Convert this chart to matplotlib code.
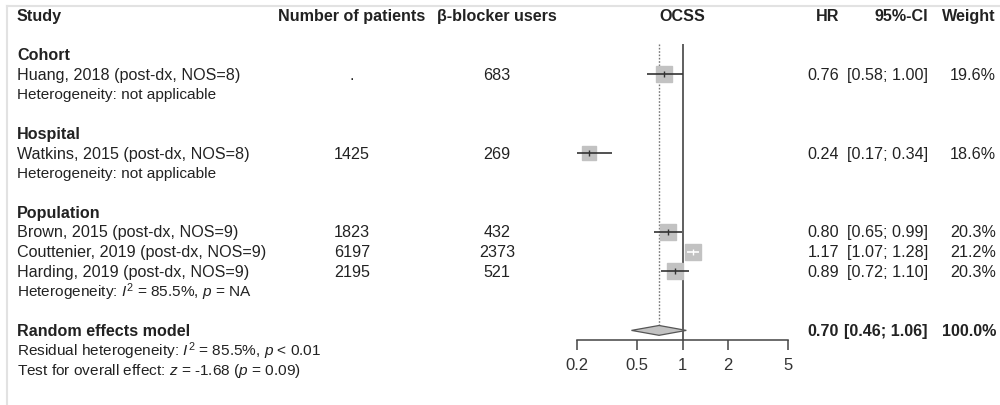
import numpy as np
import matplotlib
matplotlib.use("Agg")
import matplotlib.pyplot as plt
from matplotlib.lines import Line2D
from matplotlib.transforms import blended_transform_factory

plt.rcParams['font.family'] = ['Liberation Sans', 'DejaVu Sans']
plt.rcParams['mathtext.fontset'] = 'custom'
plt.rcParams['mathtext.rm'] = 'Liberation Sans'
plt.rcParams['mathtext.it'] = 'Liberation Sans:italic'

# data
groups = ["Cohort", "Hospital", "Population"]
studies = ["Huang, 2018 (post-dx, NOS=8)", "Watkins, 2015 (post-dx, NOS=8)",
           "Brown, 2015 (post-dx, NOS=9)", "Couttenier, 2019 (post-dx, NOS=9)",
           "Harding, 2019 (post-dx, NOS=9)"]
study_group = [0, 1, 2, 2, 2]
n_patients = [None, 1425, 1823, 6197, 2195]
bb_users = [683, 269, 432, 2373, 521]
hr = [0.76, 0.24, 0.80, 1.17, 0.89]
ci_lo = [0.58, 0.17, 0.65, 1.07, 0.72]
ci_hi = [1.00, 0.34, 0.99, 1.28, 1.10]
weight = [19.6, 18.6, 20.3, 21.2, 20.3]
group_het = ["Heterogeneity: not applicable",
             "Heterogeneity: not applicable",
             r"Heterogeneity: $I^2$ = 85.5%, $p$ = NA"]
pooled = (0.70, 0.46, 1.06)
resid_het = r"Residual heterogeneity: $I^2$ = 85.5%, $p$ < 0.01"
overall_test = r"Test for overall effect: $z$ = -1.68 ($p$ = 0.09)"
xticks = [0.2, 0.5, 1, 2, 5]

# row layout (one row = one line of text)
rows_study = [1, 5, 9, 10, 11]
rows_group = [0, 4, 8]
rows_het = [2, 6, 12]
row_pooled, row_resid, row_test = 14, 15, 16
row_header = -1.96
row_axis = 14.49

W, H = 1000, 406
fig = plt.figure(figsize=(W / 100, H / 100), dpi=100)
row0, rowh = 55.6, 19.7
ytop = -row0 / rowh
ybot = (H - row0) / rowh
ax = fig.add_axes([576.7 / W, 0, (788.3 - 576.7) / W, 1])
ax.set_xscale('log')
ax.set_xlim(0.2, 5)
ax.set_ylim(ybot, ytop)
ax.patch.set_visible(False)
for s in ['top', 'left', 'right']:
    ax.spines[s].set_visible(False)
ax.spines['bottom'].set_position(('data', row_axis))
ax.spines['bottom'].set_bounds(0.2, 5)
ax.spines['bottom'].set_color('#444444')
ax.spines['bottom'].set_linewidth(1.1)
ax.set_yticks([])
ax.set_xticks(xticks)
ax.set_xticklabels([str(t) for t in xticks])
ax.xaxis.set_minor_locator(matplotlib.ticker.NullLocator())
ax.tick_params(axis='x', length=7.5, width=1.1, color='#444444', pad=4.5,
               labelsize=12, labelcolor='#333333')

txtc = '#222222'
fs = 11.6
fs_het = 11.1

# reference lines
ax.vlines(1, -0.54, row_axis, color='#444444', lw=1.2, zorder=2)
ax.vlines(pooled[0], -0.54, row_pooled - 0.25, color='#777777', lw=1.0,
          linestyles=(0, (1.2, 1.2)), zorder=1)

# study boxes and CIs
for i in range(len(studies)):
    r = rows_study[i]
    side = 16 * weight[i] / 20.3
    ax.plot(hr[i], r, marker='s', ms=side * 0.72, mfc='#c2c2c2', mec='#c2c2c2', zorder=3)
    inside = ci_lo[i] >= hr[i] * 10 ** (-side / 2 / 151.4) and ci_hi[i] <= hr[i] * 10 ** (side / 2 / 151.4)
    lc = 'white' if inside else '#333333'
    ax.hlines(r, ci_lo[i], ci_hi[i], color=lc, lw=1.2, zorder=4)
    ax.plot(hr[i], r, marker='|', ms=4, mew=1.0, color=lc, zorder=5)

# pooled diamond
est, lo, hi = pooled
ax.fill([lo, est, hi, est], [row_pooled, row_pooled - 0.25, row_pooled, row_pooled + 0.25],
        facecolor='#c2c2c2', edgecolor='#555555', lw=0.9, zorder=3)

# text columns
tr = blended_transform_factory(fig.transFigure, ax.transData)
x_study, x_np, x_bb, x_ocss, x_hr, x_ci, x_w = 17, 352, 497, 682.5, 839, 928, 996


def put(x, r, s, ha='left', bold=False, size=fs, color=txtc):
    ax.text(x / W, r, s, transform=tr, ha=ha, va='center', fontsize=size,
            fontweight='bold' if bold else 'normal', color=color, clip_on=False)


put(x_study, row_header, "Study", bold=True)
put(x_np, row_header, "Number of patients", ha='center', bold=True)
put(x_bb, row_header, "β-blocker users", ha='center', bold=True)
put(x_ocss, row_header, "OCSS", ha='center', bold=True)
put(x_hr, row_header, "HR", ha='right', bold=True)
put(x_ci, row_header, "95%-CI", ha='right', bold=True)
put(x_w, row_header, "Weight", ha='right', bold=True)

for g, r in enumerate(rows_group):
    put(x_study, r, groups[g], bold=True)
    put(x_study, rows_het[g], group_het[g], size=fs_het)

for i in range(len(studies)):
    r = rows_study[i]
    put(x_study, r, studies[i])
    put(x_np, r, "." if n_patients[i] is None else str(n_patients[i]), ha='center')
    put(x_bb, r, str(bb_users[i]), ha='center')
    put(x_hr, r, f"{hr[i]:.2f}", ha='right')
    put(x_ci, r, f"[{ci_lo[i]:.2f}; {ci_hi[i]:.2f}]", ha='right')
    put(x_w, r, f"{weight[i]:.1f}%", ha='right')

put(x_study, row_pooled, "Random effects model", bold=True)
put(x_hr, row_pooled, f"{est:.2f}", ha='right', bold=True)
put(x_ci, row_pooled, f"[{lo:.2f}; {hi:.2f}]", ha='right', bold=True)
put(x_w, row_pooled, f"{sum(weight):.1f}%", ha='right', bold=True)
put(x_study, row_resid, resid_het, size=fs_het)
put(x_study, row_test, overall_test, size=fs_het)

# light frame at top and left
fig.add_artist(Line2D([7 / W, 1], [1 - 7 / H, 1 - 7 / H], color='#e2e2e2', lw=1.5))
fig.add_artist(Line2D([7 / W, 7 / W], [0, 1 - 7 / H], color='#e2e2e2', lw=1.5))

fig.savefig("out.png", dpi=100)
